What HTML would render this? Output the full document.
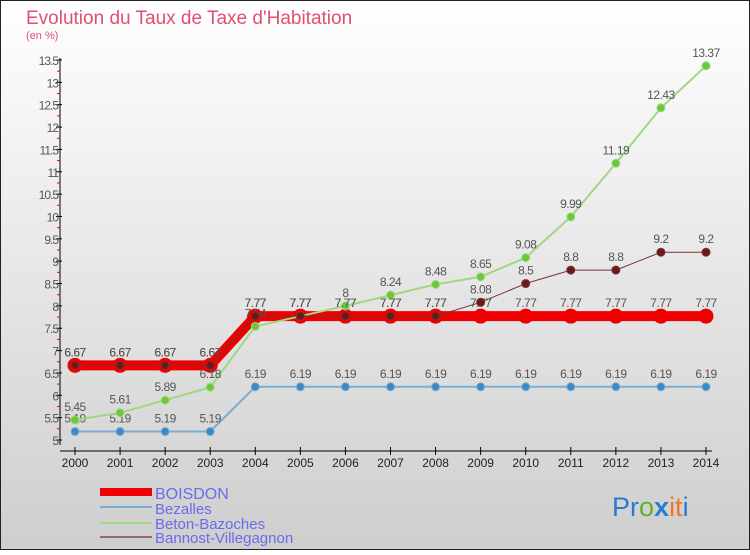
<!DOCTYPE html>
<html><head><meta charset="utf-8"><style>
body{margin:0;width:750px;height:550px;overflow:hidden;font-family:"Liberation Sans",sans-serif}
svg text{font-family:"Liberation Sans",sans-serif}
</style></head><body>
<svg id="c" width="750" height="550">
<defs><linearGradient id="bg" x1="0" y1="0" x2="0" y2="1"><stop offset="0" stop-color="#ffffff"/><stop offset="1" stop-color="#cecece"/></linearGradient></defs>
<rect x="0.5" y="0.5" width="749" height="549" fill="url(#bg)" stroke="#222"/>
<text x="26" y="24" font-size="19" fill="#e05070">Evolution du Taux de Taxe d'Habitation</text>
<text x="26" y="39" font-size="11" fill="#e05070">(en %)</text>
<g id="axes"></g><g id="series"></g>
<g>
<rect x="100" y="488" width="52" height="8" fill="#ee0000"/>
<text x="155" y="499" font-size="16" fill="#6a6aee">BOISDON</text>
<line x1="100" y1="507" x2="152" y2="507" stroke="#7aaed0" stroke-width="2"/>
<text x="155" y="514" font-size="15" fill="#6a6aee">Bezalles</text>
<line x1="100" y1="523" x2="152" y2="523" stroke="#9fd880" stroke-width="2"/>
<text x="155" y="529" font-size="15" fill="#6a6aee">Beton-Bazoches</text>
<line x1="100" y1="537" x2="152" y2="537" stroke="#996666" stroke-width="2"/>
<text x="155" y="543" font-size="15" fill="#6a6aee">Bannost-Villegagnon</text>
</g>
<text x="612" y="516" font-size="27"><tspan fill="#2a7ad0">Pr</tspan><tspan fill="#60b030">o</tspan><tspan fill="#2a7ad0" font-weight="bold">x</tspan><tspan fill="#f07a20">it</tspan><tspan fill="#2a7ad0">i</tspan></text>
</svg>
<script>
const years=[2000,2001,2002,2003,2004,2005,2006,2007,2008,2009,2010,2011,2012,2013,2014];
const yTicks=[5,5.5,6,6.5,7,7.5,8,8.5,9,9.5,10,10.5,11,11.5,12,12.5,13,13.5];
const boisdon=[6.67,6.67,6.67,6.67,7.77,7.77,7.77,7.77,7.77,7.77,7.77,7.77,7.77,7.77,7.77];
const bezalles=[5.19,5.19,5.19,5.19,6.19,6.19,6.19,6.19,6.19,6.19,6.19,6.19,6.19,6.19,6.19];
const beton=[5.45,5.61,5.89,6.18,7.54,7.77,8,8.24,8.48,8.65,9.08,9.99,11.19,12.43,13.37];
const bannost=[6.67,6.67,6.67,6.67,7.77,7.77,7.77,7.77,7.77,8.08,8.5,8.8,8.8,9.2,9.2];
const NS='http://www.w3.org/2000/svg';
const X=i=>75+i*(706-75)/(years.length-1);
const Y=v=>440-(v-5)*(380/8.5);
function mk(t,a,p){const e=document.createElementNS(NS,t);for(const k in a)e.setAttribute(k,a[k]);p.appendChild(e);return e;}
const ax=document.getElementById('axes'),sg=document.getElementById('series');
let l=mk('line',{x1:60,y1:58,x2:60,y2:445,stroke:'#000'},ax);


l=mk('line',{x1:60,y1:451,x2:712,y2:451,stroke:'#000'},ax);


yTicks.forEach((v,i)=>{
 mk('line',{x1:56,y1:Y(v),x2:62,y2:Y(v),stroke:'#000'},ax);
 if(i<yTicks.length-1)mk('line',{x1:57,y1:Y(v+0.25),x2:60,y2:Y(v+0.25),stroke:'#e00'},ax);
 const t=mk('text',{x:58,y:Y(v)+5,'font-size':12,'text-anchor':'end',fill:'#555','letter-spacing':'-1'},ax);
 
 
 t.textContent=String(v);
});
years.forEach((yr,i)=>{
 mk('line',{x1:X(i),y1:447,x2:X(i),y2:455,stroke:'#000'},ax);
 const t=mk('text',{x:X(i),y:467,'font-size':12,'text-anchor':'middle',fill:'#222'},ax);
 
 
 t.textContent=yr;
});
function series(vals,color,w,r,fill,name){
 const g=mk('g',{},sg);
 
 
 mk('polyline',{points:vals.map((v,i)=>X(i)+','+Y(v)).join(' '),fill:'none',stroke:color,'stroke-width':w,'stroke-linejoin':'round'},g);
 vals.forEach((v,i)=>{
  const c=mk('circle',{cx:X(i),cy:Y(v),r:r,fill:fill,stroke:color,'stroke-width':1},g);
  
  
  const t=mk('text',{x:X(i),y:Y(v)-9,'font-size':12,'text-anchor':'middle',fill:'#555','letter-spacing':'-0.5'},g);
  
  
  t.textContent=String(v);
 });
}
series(boisdon,'#ee0000',10,7,'#ee0000','series-boisdon');
series(bezalles,'#7aaed0',2,4,'#3a8ac8','series-bezalles');
series(beton,'#9fd880',2,4,'#6ac83a','series-beton');
series(bannost,'#773333',1,4,'#6a1a1a','series-bannost');
</script>
</body></html>
